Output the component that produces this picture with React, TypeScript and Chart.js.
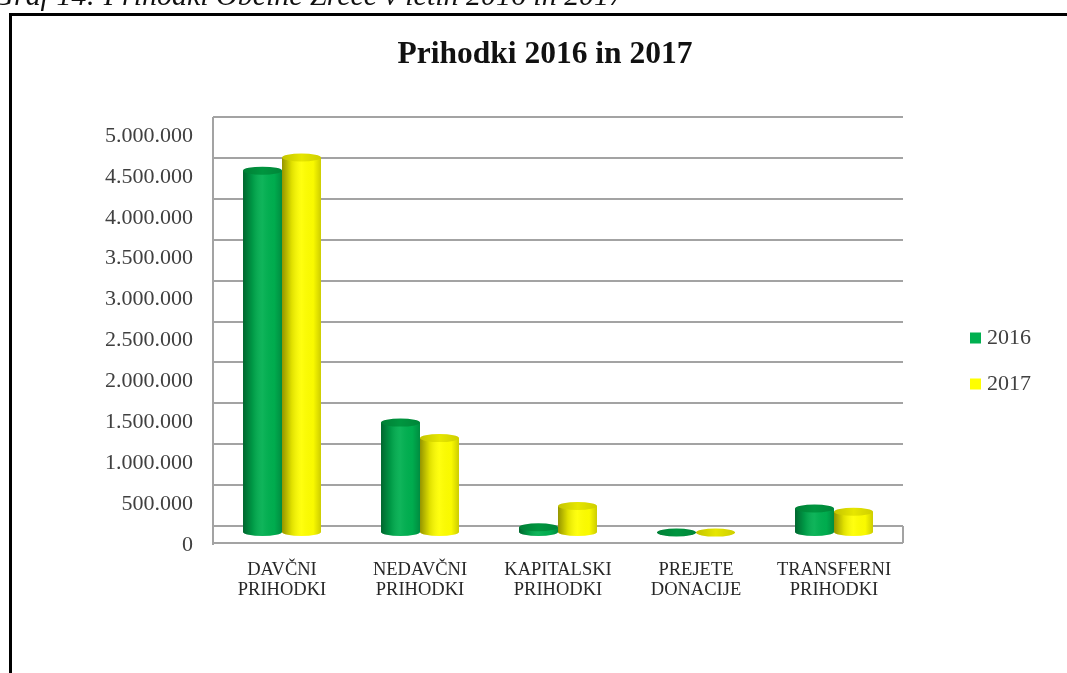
import React, { useEffect, useRef } from "react";
import { Chart, registerables } from "chart.js";

Chart.register(...registerables);

// ---------- data ----------
const categories: string[][] = [
  ["DAVČNI", "PRIHODKI"],
  ["NEDAVČNI", "PRIHODKI"],
  ["KAPITALSKI", "PRIHODKI"],
  ["PREJETE", "DONACIJE"],
  ["TRANSFERNI", "PRIHODKI"],
];
const seriesNames: string[] = ["2016", "2017"];
const values2016: number[] = [4430000, 1350000, 70000, 6000, 300000];
const values2017: number[] = [4590000, 1160000, 330000, 5000, 260000];
const yMin = 0;
const yMax = 5000000;
const yStep = 500000;
const titleText = "Prihodki 2016 in 2017";
const captionText = "Graf 14: Prihodki Občine Zreče v letih 2016 in 2017";

// ---------- style ----------
const W = 1067;
const H = 673;
const FONT = "'Liberation Serif', 'Times New Roman', serif";
const seriesColors = ["#00B050", "#FFFF00"];
const topColors = ["#00953f", "#e6e600"];
const gridColor = "#a3a3a3";

const fmt = (v: number) =>
  String(Math.round(v)).replace(/\B(?=(\d{3})+(?!\d))/g, ".");

const framePlugin = {
  id: "frame",
  beforeDraw(chart: any) {
    const ctx = chart.ctx;
    ctx.save();
    ctx.fillStyle = "#ffffff";
    ctx.fillRect(0, 0, W, H);
    ctx.fillStyle = "#000000";
    ctx.fillRect(9, 13, W, 3);
    ctx.fillRect(9, 13, 3, H);
    ctx.font = `italic 22px ${FONT}`;
    const w22 = ctx.measureText(captionText).width;
    const size = (22 * 632) / w22;
    ctx.font = `italic ${size}px ${FONT}`;
    ctx.textBaseline = "alphabetic";
    const w = ctx.measureText(captionText).width;
    ctx.fillStyle = "#111111";
    ctx.fillText(captionText, 624 - w, 5);
    ctx.restore();
  },
};

const floorPlugin = {
  id: "floor",
  beforeDatasetsDraw(chart: any) {
    const { ctx, chartArea } = chart;
    const { left, right, top, bottom } = chartArea;
    ctx.save();
    ctx.strokeStyle = gridColor;
    ctx.lineWidth = 2;
    ctx.beginPath();
    ctx.moveTo(left, top);
    ctx.lineTo(left, bottom + 19);
    ctx.moveTo(left, bottom + 17);
    ctx.lineTo(right, bottom + 17);
    ctx.moveTo(right, bottom);
    ctx.lineTo(right, bottom + 17);
    ctx.stroke();
    ctx.restore();
    // shift bars to the middle depth of the 3D floor
    ctx.save();
    ctx.translate(0, 7);
  },
  afterDatasetDraw(chart: any, args: any) {
    const ctx = chart.ctx;
    const meta = args.meta;
    const di = args.index;
    meta.data.forEach((el: any) => {
      const { x, y, base, width } = el.getProps(["x", "y", "base", "width"], true);
      const l = x - width / 2;
      const r = x + width / 2;
      const rx = width / 2;
      const ry = 4;
      const g = ctx.createLinearGradient(l, 0, r, 0);
      g.addColorStop(0, "rgba(0,0,0,0.42)");
      g.addColorStop(0.25, "rgba(0,0,0,0.12)");
      g.addColorStop(0.5, "rgba(255,255,255,0.06)");
      g.addColorStop(0.8, "rgba(0,0,0,0.02)");
      g.addColorStop(1, "rgba(0,0,0,0.2)");
      ctx.beginPath();
      ctx.ellipse(x, base, rx, ry, 0, 0, Math.PI);
      ctx.closePath();
      ctx.fillStyle = seriesColors[di];
      ctx.fill();
      ctx.fillStyle = g;
      ctx.fill();
      ctx.fillStyle = g;
      ctx.fillRect(l, Math.min(y, base), width, Math.abs(base - y));
      const tg = ctx.createLinearGradient(l, 0, r, 0);
      tg.addColorStop(0, "rgba(0,0,0,0.15)");
      tg.addColorStop(0.5, "rgba(0,0,0,0)");
      tg.addColorStop(1, "rgba(0,0,0,0.1)");
      ctx.beginPath();
      ctx.ellipse(x, y, rx, ry, 0, 0, Math.PI * 2);
      ctx.fillStyle = topColors[di];
      ctx.fill();
      ctx.fillStyle = tg;
      ctx.fill();
    });
  },
  afterDatasetsDraw(chart: any) {
    chart.ctx.restore();
  },
};

const legendPlugin = {
  id: "sideLegend",
  afterDraw(chart: any) {
    const ctx = chart.ctx;
    const right = chart.chartArea.right;
    ctx.save();
    ctx.font = `22px ${FONT}`;
    ctx.textBaseline = "middle";
    chart.data.datasets.forEach((ds: any, i: number) => {
      const cy = 338 + i * 46;
      ctx.fillStyle = seriesColors[i];
      ctx.fillRect(right + 67, cy - 5.5, 11, 11);
      ctx.fillStyle = "#404040";
      ctx.fillText(ds.label, right + 84, cy);
    });
    ctx.restore();
  },
};

export default function App() {
  const ref = useRef<HTMLCanvasElement | null>(null);
  useEffect(() => {
    if (!ref.current) return;
    const chart = new Chart(ref.current, {
      type: "bar",
      data: {
        labels: categories,
        datasets: [
          {
            label: seriesNames[0],
            data: values2016,
            backgroundColor: seriesColors[0],
            borderWidth: 0,
          },
          {
            label: seriesNames[1],
            data: values2017,
            backgroundColor: seriesColors[1],
            borderWidth: 0,
          },
        ],
      },
      options: {
        responsive: false,
        animation: false,
        devicePixelRatio: 1,
        layout: { padding: { left: 23, right: 0, top: 0, bottom: 0 } },
        datasets: {
          bar: { categoryPercentage: 0.565, barPercentage: 1.0 },
        },
        plugins: {
          legend: { display: false },
          tooltip: { enabled: false },
          title: {
            display: true,
            text: titleText,
            color: "#111111",
            font: { family: FONT, size: 31.5, weight: "bold", lineHeight: 1.2 },
            padding: { top: 36, bottom: 43.2 },
          },
        },
        scales: {
          x: {
            grid: { display: false, drawTicks: false },
            border: { display: false },
            ticks: {
              color: "#262626",
              font: { family: FONT, size: 18.5, lineHeight: "20px" },
              padding: 34,
              maxRotation: 0,
              autoSkip: false,
            },
            afterFit(scale: any) {
              scale.height = 147;
            },
          },
          y: {
            min: yMin,
            max: yMax,
            grid: { color: gridColor, lineWidth: 2, drawTicks: false },
            border: { display: false },
            ticks: {
              stepSize: yStep,
              color: "#404040",
              font: { family: FONT, size: 22 },
              padding: 20,
              labelOffset: 19,
              callback: (v: any) => fmt(Number(v)),
            },
            afterFit(scale: any) {
              scale.width = 190;
            },
          },
          legendSpace: {
            type: "linear",
            position: "right",
            display: true,
            grid: { display: false, drawTicks: false },
            border: { display: false },
            ticks: { display: false },
            afterFit(scale: any) {
              scale.width = 164;
            },
          },
        },
      },
      plugins: [framePlugin, floorPlugin, legendPlugin],
    });
    return () => chart.destroy();
  }, []);
  return (
    <div style={{ position: "fixed", left: 0, top: 0, width: W, height: H, background: "#fff" }}>
      <canvas ref={ref} width={W} height={H} style={{ display: "block", width: W, height: H }} />
    </div>
  );
}
